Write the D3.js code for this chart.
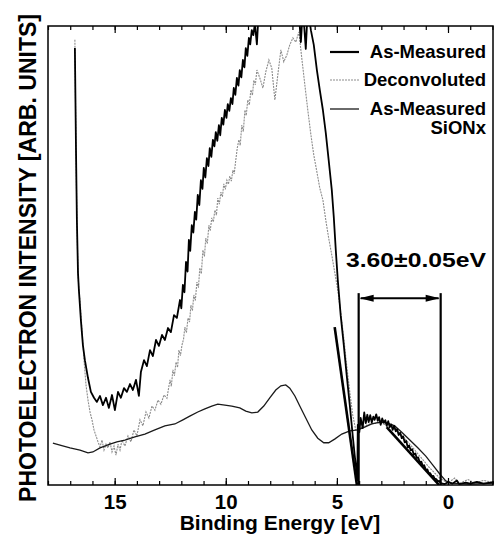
<!DOCTYPE html>
<html>
<head>
<meta charset="utf-8">
<script src="https://cdn.jsdelivr.net/npm/d3@7"></script>
<style>
html, body { margin: 0; padding: 0; background: #fff; }
#chart { width: 496px; height: 540px; }
text { font-family: "Liberation Sans", Arial, Helvetica, sans-serif; font-weight: bold; fill: #000; }
</style>
</head>
<body>
<div id="chart"></div>
<script>
// binding energy [eV] vs intensity (arb. units, 0-100 = plot height)
const asMeasured = [
  [16.79,95.2],[16.74,73.0],[16.70,57.7],[16.65,46.2],[16.61,42.5],[16.52,35.9],[16.43,30.5],[16.34,27.2],
  [16.20,23.3],[16.07,20.3],[15.93,19.0],[15.80,18.1],[15.66,19.4],[15.53,17.4],[15.39,19.0],[15.26,16.8],
  [15.12,19.6],[14.99,16.3],[14.85,20.3],[14.72,19.0],[14.58,21.1],[14.45,20.3],[14.31,22.0],[14.18,20.7],
  [14.04,22.9],[13.91,19.4],[13.82,24.6],[13.68,27.2],[13.55,25.9],[13.41,29.4],[13.28,28.1],[13.14,31.6],
  [13.01,30.3],[12.87,32.7],[12.74,31.6],[12.60,34.2],[12.47,33.3],[12.33,37.0],[12.20,36.4],[12.06,40.3],
  [12.00,38.5],[11.93,43.6],[11.86,42.0],[11.79,48.6],[11.72,46.5],[11.66,53.4],[11.60,51.0],[11.53,56.6],
  [11.46,55.0],[11.39,59.5],[11.33,57.8],[11.26,63.2],[11.19,61.0],[11.12,66.4],[11.05,64.5],[10.99,69.1],
  [10.92,67.0],[10.85,71.2],[10.78,69.5],[10.72,73.4],[10.65,71.5],[10.58,75.2],[10.51,73.8],[10.45,76.9],
  [10.38,75.0],[10.31,78.4],[10.25,76.2],[10.18,80.0],[10.11,78.5],[10.04,81.7],[9.97,80.0],[9.91,83.0],
  [9.84,81.5],[9.77,84.3],[9.70,83.0],[9.64,86.5],[9.57,85.0],[9.50,88.7],[9.43,87.0],[9.37,90.4],
  [9.30,88.8],[9.23,92.6],[9.16,91.0],[9.10,95.2],[9.03,93.5],[8.96,97.4],[8.90,96.0],[8.83,99.1],
  [8.76,98],[8.69,100.5],[8.60,96],[8.51,104],[8.38,108],[8.02,110],[7.57,112],[7.12,112],[6.76,106],
  [6.62,96.5],[6.53,104],[6.40,95],[6.31,104],[6.17,99.1],[6.04,95.9],[5.90,90.4],[5.77,86.1],[5.63,81.7],
  [5.50,76.7],[5.37,70.8],[5.23,64.3],[5.14,58.4],[5.05,51.2],[4.96,44.7],[4.83,37.0],[4.69,30.5],
  [4.56,24.0],[4.42,17.4],[4.29,10.9],[4.20,6.5],[4.11,2.8],[4.08,1.0],
  [4.06,13.1],[3.99,11.5],[3.93,14.6],[3.84,12.4],[3.77,15.8],[3.70,13.5],[3.63,15.3],[3.57,13.7],
  [3.50,15.2],[3.43,13.6],[3.36,14.9],[3.30,14.2],[3.23,15.4],[3.16,14.0],[3.10,14.8],[3.03,13.1],
  [2.96,14.5],[2.89,13.6],[2.82,14.1],[2.76,12.9],[2.69,13.9],[2.62,12.6],[2.55,13.2],[2.49,12.0],
  [2.42,12.9],[2.35,11.7],[2.29,12.2],[2.22,10.9],[2.15,11.4],[2.08,10.2],[2.02,10.6],[1.95,9.3],
  [1.88,9.6],[1.81,8.2],[1.75,8.6],[1.68,7.6],[1.61,7.8],[1.54,6.6],[1.47,6.9],[1.41,5.9],[1.34,6.0],
  [1.27,4.9],[1.20,5.1],[1.14,4.2],[1.07,4.3],[1.00,3.3],[0.93,3.4],[0.87,2.6],[0.80,2.6],[0.73,1.9],
  [0.66,2.0],[0.60,1.4],[0.53,1.3],[0.46,0.8],[0.40,0.9],[0.33,0.4],[0.15,0.2],[0.0,0.6],[-0.2,0.3],
  [-0.4,1.0],[-0.5,0.2],[-0.8,0.5],[-1.0,0.3],[-1.3,0.7],[-1.6,0.3],[-1.9,0.5],[-2.07,0.6]
];

const deconvoluted = [
  [16.79,97],[16.74,73],[16.70,57.7],[16.65,46.2],[16.61,42.5],[16.56,40.3],[16.47,33.8],[16.38,27.2],
  [16.29,21.8],[16.20,18.5],[16.11,15.9],[16.02,14.2],[15.93,12.0],[15.84,10.7],[15.75,9.4],[15.66,8.3],
  [15.57,9.8],[15.48,7.6],[15.39,8.9],[15.30,8.1],[15.21,9.4],[15.12,7.2],[15.03,8.5],[14.94,6.5],
  [14.85,8.9],[14.76,7.6],[14.67,9.8],[14.54,8.5],[14.40,10.7],[14.27,9.4],[14.13,12.0],[14.00,10.7],
  [13.86,14.2],[13.73,12.9],[13.59,15.9],[13.46,14.6],[13.32,17.2],[13.19,16.3],[13.05,18.5],[12.92,17.6],
  [12.78,19.6],[12.65,18.9],[12.51,22.9],[12.45,21.5],[12.38,25.1],[12.31,23.8],[12.24,26.8],[12.17,25.6],
  [12.11,29.4],[12.04,28.2],[11.97,30.5],[11.90,31.8],[11.84,34.4],[11.77,33.2],[11.70,36.4],[11.63,35.5],
  [11.57,39.2],[11.50,38.0],[11.44,41.4],[11.37,40.2],[11.30,44.2],[11.23,43.0],[11.17,47.3],[11.10,46.0],
  [11.03,51.2],[10.96,49.8],[10.90,53.8],[10.83,52.6],[10.76,56.6],[10.70,55.4],[10.63,58.2],[10.56,57.3],
  [10.49,59.9],[10.42,58.8],[10.36,62.5],[10.29,61.2],[10.22,63.8],[10.15,62.8],[10.09,65.6],[10.02,64.4],
  [9.95,66.4],[9.88,65.5],[9.82,67.3],[9.75,66.2],[9.68,68.6],[9.62,67.8],[9.55,70.8],[9.48,73.5],
  [9.41,75.2],[9.35,74.0],[9.28,78.4],[9.21,77.0],[9.14,81.7],[9.08,80.5],[9.01,83.9],[8.94,82.8],
  [8.87,86.1],[8.80,84.9],[8.74,88.2],[8.67,87.2],[8.60,90.4],
  [8.47,88.7],[8.33,86.5],[8.20,90.0],[8.06,92.6],[7.93,90.8],[7.79,83.9],[7.66,89.3],[7.52,94.8],
  [7.39,92.2],[7.25,93.7],[7.12,95.9],[6.98,97.4],[6.85,96.5],[6.71,98.7],[6.58,93.0],[6.44,87.1],
  [6.31,81.7],[6.17,76.3],[6.04,71.9],[5.90,68.2],[5.77,64.7],[5.63,62.1],[5.50,57.7],[5.37,53.8],
  [5.23,50.1],[5.10,46.4],[4.96,42.5],[4.83,37.7],[4.69,32.0],[4.56,26.1],[4.42,20.3],[4.29,15.3],
  [4.15,12.0],[3.97,12.4],[3.52,13.3],[3.07,13.5],[2.62,12.9],[2.17,11.3],[1.72,8.9],[1.27,6.3],
  [0.82,3.7],[0.37,1.5],[0.01,0.4],[-0.3,1.5],[-0.5,0.3],[-0.9,1.2],[-1.2,0.4],[-1.6,1.0],[-2.07,0.5]
];

const siONx = [
  [17.78,9.15],[17.46,8.7],[17.01,8.1],[16.56,7.6],[16.20,7.0],[15.98,7.2],[15.66,8.1],[15.21,8.9],
  [14.90,9.4],[14.54,9.8],[14.09,10.5],[13.64,11.1],[13.19,12.0],[12.74,12.9],[12.29,13.3],[11.93,14.2],
  [11.62,15.0],[11.26,15.9],[10.94,16.6],[10.63,17.2],[10.36,17.6],[10.04,17.4],[9.73,17.2],[9.37,16.8],
  [9.10,16.1],[8.83,15.7],[8.56,15.9],[8.29,17.2],[8.02,19.0],[7.75,20.7],[7.52,21.6],[7.30,21.8],
  [7.12,21.1],[6.89,19.4],[6.67,17.2],[6.40,14.6],[6.13,12.0],[5.86,10.2],[5.59,9.2],[5.37,9.2],
  [5.10,10.0],[4.78,11.1],[4.42,11.8],[4.06,12.0],[3.75,12.6],[3.43,13.3],[3.07,13.7],[2.71,13.5],
  [2.40,12.9],[2.08,11.5],[1.72,9.8],[1.36,8.1],[1.00,6.3],[0.69,4.4],[0.37,2.4],[0.10,0.9],
  [-0.17,0.4],[-0.98,0.2],[-2.07,0.4]
];

// linear extrapolations of the two edges
const edgeFitHigh = [[5.10,34.4],[4.10,0]];
const edgeFitLow = [[2.76,12.6],[0.40,0]];

const gapMarks = [4.02, 0.33];
const gapTop = 41.8;
const gapArrowAt = 40.7;
const gapLabel = '3.60\u00B10.05eV';

const xMajorTicks = [15, 10, 5, 0];
const xMinorTicks = d3.range(18, -2.5, -1);

const legendItems = ['As-Measured', 'Deconvoluted', 'As-Measured'];

class BandGapChart {
  constructor(_config) {
    this.config = {
      parentElementSelector: _config.parentElementSelector,
      margin: _config.margin || { top: 26, right: 2, bottom: 55, left: 48 },
      width: _config.width || 496,
      height: _config.height || 540,
    };
    this.initVis();
  }

  initVis() {
    const m = this.config.margin;
    this.svg = d3.select(this.config.parentElementSelector)
      .append('svg')
      .attr('width', this.config.width)
      .attr('height', this.config.height);

    this.x = d3.scaleLinear()
      .domain([18, -2.07])
      .range([m.left, this.config.width - m.right]);
    this.y = d3.scaleLinear()
      .domain([0, 100])
      .range([this.config.height - m.bottom, m.top]);

    this.svg.append('clipPath').attr('id', 'plot-clip')
      .append('rect')
      .attr('x', m.left).attr('y', m.top)
      .attr('width', this.config.width - m.left - m.right)
      .attr('height', this.config.height - m.top - m.bottom);

    this.updateVis();
  }

  updateVis() {
    const x = this.x, y = this.y;
    const m = this.config.margin;
    const bottom = this.config.height - m.bottom;

    const line = d3.line().x(d => x(d[0])).y(d => y(d[1]));
    const plot = this.svg.append('g').attr('clip-path', 'url(#plot-clip)');

    plot.append('path').datum(deconvoluted)
      .attr('fill', 'none').attr('stroke', '#8c8c8c')
      .attr('stroke-width', 1.1).attr('stroke-dasharray', '2,1')
      .attr('d', line);
    plot.append('path').datum(siONx)
      .attr('fill', 'none').attr('stroke', '#1a1a1a')
      .attr('stroke-width', 1.3)
      .attr('d', line);
    plot.append('path').datum(asMeasured)
      .attr('fill', 'none').attr('stroke', '#000')
      .attr('stroke-width', 1.8).attr('stroke-linejoin', 'round')
      .attr('d', line);

    [edgeFitHigh, edgeFitLow].forEach(f => {
      plot.append('path').datum(f)
        .attr('fill', 'none').attr('stroke', '#000')
        .attr('stroke-width', 2.6)
        .attr('d', line);
    });

    // gap markers
    gapMarks.forEach(e => {
      this.svg.append('line')
        .attr('x1', x(e)).attr('x2', x(e))
        .attr('y1', y(gapTop)).attr('y2', bottom)
        .attr('stroke', '#000').attr('stroke-width', 2.2);
    });
    const ay = y(gapArrowAt);
    const x0 = x(gapMarks[0]), x1 = x(gapMarks[1]);
    this.svg.append('line')
      .attr('x1', x0 + 2).attr('x2', x1 - 2)
      .attr('y1', ay).attr('y2', ay)
      .attr('stroke', '#000').attr('stroke-width', 2);
    this.svg.append('path')
      .attr('d', `M${x0 + 1},${ay} l14,-3.5 l0,7 Z M${x1 - 1},${ay} l-14,-3.5 l0,7 Z`)
      .attr('fill', '#000');
    this.svg.append('text')
      .attr('x', 486).attr('y', 267)
      .attr('text-anchor', 'end')
      .attr('font-size', 21)
      .attr('textLength', 140).attr('lengthAdjust', 'spacingAndGlyphs')
      .text(gapLabel);

    // frame + ticks
    this.svg.append('rect')
      .attr('x', m.left).attr('y', m.top)
      .attr('width', this.config.width - m.left - m.right - 1)
      .attr('height', bottom - m.top)
      .attr('fill', 'none').attr('stroke', '#000').attr('stroke-width', 1.5);

    const minorB = this.svg.append('g')
      .attr('transform', `translate(0,${bottom})`)
      .call(d3.axisBottom(x).tickValues(xMinorTicks).tickSize(-4).tickFormat(''));
    const majorB = this.svg.append('g')
      .attr('transform', `translate(0,${bottom})`)
      .call(d3.axisBottom(x).tickValues(xMajorTicks).tickSize(-7).tickPadding(9).tickFormat(d3.format('d')));
    const minorT = this.svg.append('g')
      .attr('transform', `translate(0,${m.top})`)
      .call(d3.axisTop(x).tickValues(xMinorTicks).tickSize(-4).tickFormat(''));
    const majorT = this.svg.append('g')
      .attr('transform', `translate(0,${m.top})`)
      .call(d3.axisTop(x).tickValues(xMajorTicks).tickSize(-7).tickFormat(''));
    [minorB, majorB, minorT, majorT].forEach(g => {
      g.select('.domain').remove();
      g.selectAll('line').attr('stroke', '#000').attr('stroke-width', 1.2);
    });
    majorB.selectAll('text')
      .attr('font-size', 20.5)
      .attr('font-family', '"Liberation Sans", Arial, sans-serif')
      .attr('font-weight', 'bold')
      .attr('fill', '#000');

    // axis titles
    this.svg.append('text')
      .attr('x', 280).attr('y', 530)
      .attr('text-anchor', 'middle')
      .attr('font-size', 21)
      .text('Binding Energy [eV]');
    this.svg.append('text')
      .attr('transform', 'translate(36,258) rotate(-90)')
      .attr('text-anchor', 'middle')
      .attr('font-size', 23)
      .attr('textLength', 488).attr('lengthAdjust', 'spacingAndGlyphs')
      .text('PHOTOELECTRON INTENSITY [ARB. UNITS]');

    // legend
    const legendY = [52, 80, 109];
    const legendStyle = [
      { stroke: '#000', w: 2.2, dash: null },
      { stroke: '#8c8c8c', w: 1.1, dash: '2,1' },
      { stroke: '#1a1a1a', w: 1.3, dash: null },
    ];
    const lg = this.svg.append('g');
    legendItems.forEach((name, i) => {
      lg.append('line')
        .attr('x1', 330).attr('x2', 359)
        .attr('y1', legendY[i]).attr('y2', legendY[i])
        .attr('stroke', legendStyle[i].stroke)
        .attr('stroke-width', legendStyle[i].w)
        .attr('stroke-dasharray', legendStyle[i].dash);
      lg.append('text')
        .attr('x', 486).attr('y', legendY[i] + 6)
        .attr('text-anchor', 'end')
        .attr('font-size', 18.5)
        .text(name);
    });
    lg.append('text')
      .attr('x', 486).attr('y', 134)
      .attr('text-anchor', 'end')
      .attr('font-size', 18.5)
      .text('SiONx');
  }
}

const chart = new BandGapChart({ parentElementSelector: '#chart' });
</script>
</body>
</html>
